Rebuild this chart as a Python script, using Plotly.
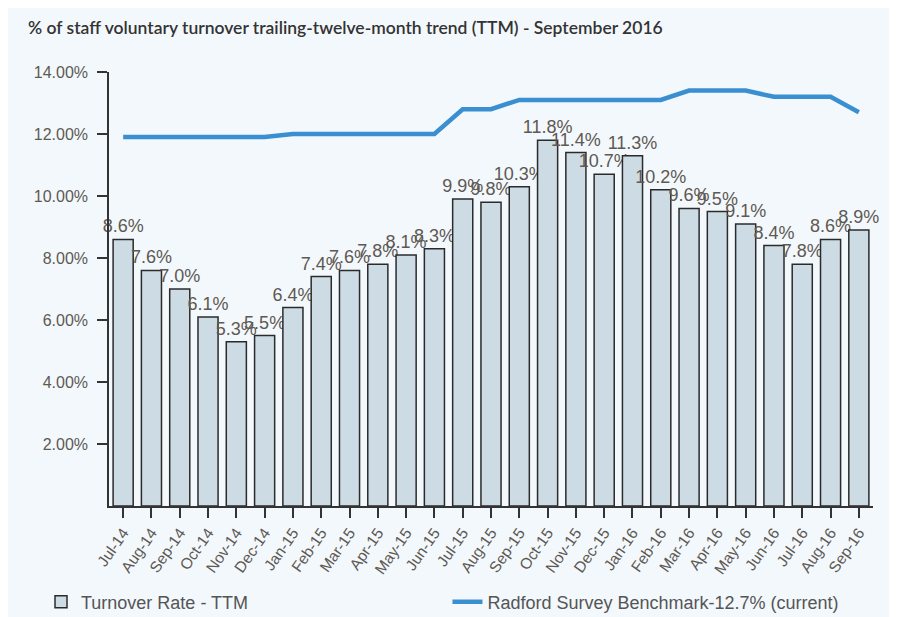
import plotly.graph_objects as go

months = ["Jul-14", "Aug-14", "Sep-14", "Oct-14", "Nov-14", "Dec-14",
          "Jan-15", "Feb-15", "Mar-15", "Apr-15", "May-15", "Jun-15",
          "Jul-15", "Aug-15", "Sep-15", "Oct-15", "Nov-15", "Dec-15",
          "Jan-16", "Feb-16", "Mar-16", "Apr-16", "May-16", "Jun-16",
          "Jul-16", "Aug-16", "Sep-16"]
turnover = [8.6, 7.6, 7.0, 6.1, 5.3, 5.5, 6.4, 7.4, 7.6, 7.8, 8.1, 8.3,
            9.9, 9.8, 10.3, 11.8, 11.4, 10.7, 11.3, 10.2, 9.6, 9.5, 9.1,
            8.4, 7.8, 8.6, 8.9]
benchmark = [11.9, 11.9, 11.9, 11.9, 11.9, 11.9, 12.0, 12.0, 12.0, 12.0,
             12.0, 12.0, 12.8, 12.8, 13.1, 13.1, 13.1, 13.1, 13.1, 13.1,
             13.4, 13.4, 13.4, 13.2, 13.2, 13.2, 12.7]
ytick_vals = [2, 4, 6, 8, 10, 12, 14]
ytick_text = ["2.00%", "4.00%", "6.00%", "8.00%", "10.00%", "12.00%", "14.00%"]

label_color = "#5e5953"
font_family = "Arial, Liberation Sans, sans-serif"

fig = go.Figure()
fig.add_trace(go.Bar(
    x=months, y=turnover, name="Turnover Rate - TTM",
    marker=dict(color="#cddbe4", line=dict(color="#2b2b2b", width=1.5)),
    text=[f"{v:.1f}%" for v in turnover], textposition="outside",
    textangle=0, constraintext="none", cliponaxis=False,
    textfont=dict(family=font_family, size=18, color=label_color),
    legend="legend",
))
fig.add_trace(go.Scatter(
    x=months, y=benchmark, name="Radford Survey Benchmark-12.7% (current)",
    mode="lines", line=dict(color="#3a8fd0", width=4.5),
    legend="legend2",
))

fig.update_layout(
    width=897, height=617,
    paper_bgcolor="#f3f8fc", plot_bgcolor="#f3f8fc",
    margin=dict(l=101, r=32, t=64, b=119),
    bargap=0.29,
    title=dict(text="% of staff voluntary turnover trailing-twelve-month trend (TTM) - September 2016",
               x=0.0223, xanchor="left", y=0.968, yanchor="middle",
               font=dict(family="Lato, sans-serif", size=17.5, color="#333333", weight=600)),
    font=dict(family=font_family, color=label_color),
    showlegend=True,
    legend=dict(x=-0.089, xanchor="left", yref="container", y=0.0373, yanchor="middle",
                font=dict(size=18, color="#555555"), bgcolor="rgba(0,0,0,0)"),
    legend2=dict(x=0.443, xanchor="left", yref="container", y=0.0373, yanchor="middle",
                 font=dict(size=18, color="#555555"), bgcolor="rgba(0,0,0,0)"),
)
fig.update_xaxes(
    automargin=False,
    showgrid=False, showline=True, linecolor="#333333", linewidth=1.5,
    ticks="outside", ticklen=10, tickcolor="#333333", tickwidth=1.5,
    tickangle=-55, tickfont=dict(size=15.5, color=label_color),
)
fig.update_yaxes(
    automargin=False,
    range=[0, 14], showgrid=False, zeroline=False, showline=True,
    linecolor="#333333", linewidth=1.5,
    ticks="outside", ticklen=10, tickcolor="#333333", tickwidth=1.5,
    tickvals=ytick_vals, ticktext=ytick_text, ticklabelstandoff=6,
    tickfont=dict(size=16, color=label_color),
)
fig.write_html("out.html")
